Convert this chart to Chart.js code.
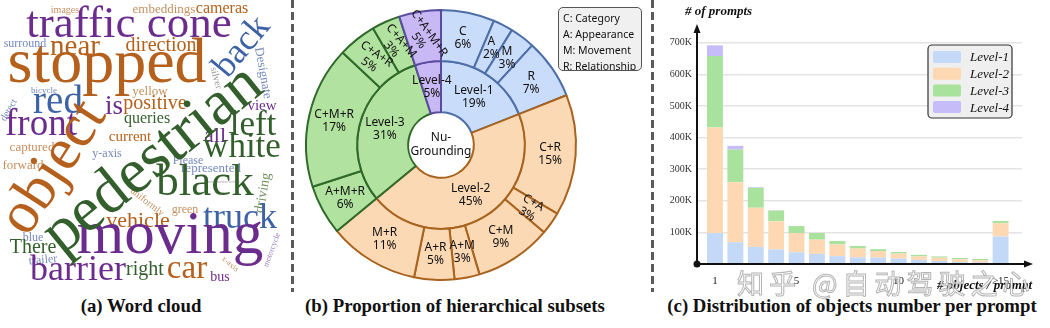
<!DOCTYPE html>
<html lang="en">
<head>
<meta charset="UTF-8">
<title>Nu-Grounding statistics</title>
<script src="https://cdn.jsdelivr.net/npm/chart.js@4.4.1/dist/chart.umd.min.js"></script>
<style>
    body {
        margin: 0;
        background-color: #ffffff;
    }

    .page {
        position: relative;
        width: 1050px;
        height: 328px;
        overflow: hidden;
    }

    canvas {
        position: absolute;
        top: 0;
    }

    #cloud { left: 0; }
    #rings { left: 296px; }
    #bars { left: 653px; }

    .sep {
        position: absolute;
        top: 0;
        width: 3px;
        height: 292px;
        background: repeating-linear-gradient(to bottom, #5a5a5a 0 8px, transparent 8px 12px);
    }

    .caption {
        position: absolute;
        top: 295px;
        font: bold 18.8px 'Liberation Serif', serif;
        color: #111;
        white-space: nowrap;
        transform: translateX(-50%);
    }

    .keybox {
        position: absolute;
        left: 558px;
        top: 7px;
        width: 78px;
        height: 60px;
        padding: 2px 0 0 4px;
        background: #f0f0f0;
        border: 1px solid #555;
        border-radius: 5px;
        font: 10.5px 'Noto Sans', sans-serif;
        line-height: 16px;
        color: #111;
        white-space: nowrap;
        overflow: hidden;
    }

    .mark {
        position: absolute;
        left: 737px;
        top: 269px;
        font: 27px 'Noto Sans CJK SC', sans-serif;
        line-height: 28px;
        letter-spacing: 5px;
        color: rgba(255, 255, 255, 0.75);
        -webkit-text-stroke: 1px rgba(140, 140, 140, 0.65);
        white-space: nowrap;
    }
</style>
</head>
<body>
<div class="page">
    <canvas id="cloud" width="290" height="290"></canvas>
    <canvas id="rings" width="290" height="290"></canvas>
    <canvas id="bars" width="397" height="295"></canvas>

    <div class="sep" style="left:291px"></div>
    <div class="sep" style="left:651px"></div>

    <div class="keybox">C: Category<br>A: Appearance<br>M: Movement<br>R: Relationship</div>

    <div class="caption" style="left:141px">(a) Word cloud</div>
    <div class="caption" style="left:455px">(b) Proportion of hierarchical subsets</div>
    <div class="caption" style="left:852px">(c) Distribution of objects number per prompt</div>

    <div class="mark">知乎 @自动驾驶之心</div>
</div>

<script>
    // ---- (a) word cloud ----
    const words = ['traffic cone', 'images', 'embeddings', 'cameras', 'surround', 'near', 'direction', 'back', 'stopped', 'Designate',
        'silver', 'bicycle', 'yellow', 'red', 'is', 'positive', 'view', 'detect', 'queries', 'front',
        'left', 'all', 'current', 'white', 'captured', 'y-axis', 'forward', 'Please', 'represented', 'construction vehicle',
        'black', 'driving', 'uniformly', 'green', 'vehicle', 'truck', 'moving', 'motorcycle', 'blue', 'There',
        'trailer', 'barrier', 'right', 'car', 'bus', 'x-axis', 'object', 'pedestrian'];
    const wordWeight = [45, 10, 13, 16, 12, 29, 20, 36, 64, 13,
        10, 9, 13, 39, 27, 20, 15, 10, 16, 37,
        35, 22, 15, 35, 13, 12, 13, 12, 13, 4,
        45, 14, 10, 12, 22, 36, 61, 8, 12, 20,
        12, 36, 20, 33, 14, 8, 60, 64];

    // layout of the cloud (0..290 box)
    const wordX = [129, 65, 164, 222, 25, 75, 161, 242, 107, 263,
        216, 44, 150, 58, 114, 155, 262, 9, 147, 41,
        253, 215, 130, 242, 32, 107, 23, 188, 211, 224,
        205, 263, 147, 185, 138, 240, 170, 272, 33, 33,
        43, 78, 145, 187, 220, 230, 54, 153];
    const wordY = [25, 10, 10, 9, 44, 47, 46, 47, 65, 73,
        78, 91, 92, 103, 107, 104, 106, 110, 119, 125,
        126, 136, 137, 148, 148, 154, 166, 161, 169, 182,
        183, 193, 202, 210, 221, 219, 237, 250, 238, 248,
        260, 271, 270, 269, 277, 264, 168, 160];
    const wordAngle = [0, 0, 0, 0, 0, 0, 0, -50, 0, 80,
        75, 0, 0, 0, 0, 0, 0, -60, 0, 0,
        0, 0, 0, 0, 0, 0, 0, 0, 0, 0,
        0, -80, 38, 0, 0, 0, 0, -70, 0, 0,
        -5, 0, 0, 0, 0, 40, -57, -39];
    const wordTone = ['purple', 'lightOrange', 'lightOrange', 'orange', 'lightBlue', 'orange', 'orange', 'blue', 'orange', 'lightBlue',
        'gray', 'lightBlue', 'lightOrange', 'blue', 'purple', 'orange', 'purple', 'lightBlue', 'green', 'purple',
        'green', 'purple', 'orange', 'green', 'lightOrange', 'lightBlue', 'lightOrange', 'lightBlue', 'lightBlue', 'gray',
        'green', 'lightGreen', 'lightOrange', 'lightOrange', 'orange', 'blue', 'purple', 'lightPurple', 'lightBlue', 'green',
        'lightBlue', 'purple', 'green', 'orange', 'purple', 'lightOrange', 'orange', 'green'];
    const tones = {
        orange: '#b5601c', lightOrange: '#c49060',
        purple: '#6b2c8e', lightPurple: '#9c80bb',
        green: '#335f2c', lightGreen: '#6f8f5c',
        blue: '#3d63a6', lightBlue: '#7489bd',
        gray: '#9a9a9a'
    };

    // ---- (b) hierarchical subsets (percent) ----
    const levelNames = ['Level-1', 'Level-2', 'Level-3', 'Level-4'];
    const levelShare = [19, 45, 31, 5];
    const subsetNames = ['C', 'A', 'M', 'R', 'C+R', 'C+A', 'C+M', 'A+M', 'A+R', 'M+R', 'A+M+R', 'C+M+R', 'C+A+R', 'C+A+M', 'C+A+M+R'];
    const subsetShare = [6.4, 2.4, 3.0, 7.2, 14.5, 2.7, 9.2, 3.0, 4.8, 10.8, 6.0, 17.0, 4.6, 3.4, 5.0];
    const subsetLevel = [0, 0, 0, 0, 1, 1, 1, 1, 1, 1, 2, 2, 2, 2, 3];
    const subsetTilt = [0, 0, 0, 0, 0, 30, 0, 0, 0, 0, 0, 0, 35, 50, 55];

    // ---- (c) objects per prompt (thousands of prompts) ----
    const objectCounts = ['1', '2', '3', '4', '5', '6', '7', '8', '9', '10', '11', '12', '13', '14', '≥15'];
    const level1 = [98, 69, 54, 46, 37, 32, 25, 21, 20, 17, 13, 9.5, 6, 5, 87];
    const level2 = [334, 190, 124, 89, 61, 45, 37, 28, 21, 16, 11, 10.5, 9, 7, 42];
    const level3 = [226, 103, 63, 34, 22, 21, 11, 8, 6, 5, 5, 4, 4, 4, 7];
    const level4 = [34, 12, 2, 1, 0, 0, 0, 0, 0, 0, 0, 0, 0, 0, 0];
    const xTickValues = [1, 5, 10, 15];
    const xTickLabels = ['1', '5', '10', '≥15'];
    const yTickValues = [100000, 200000, 300000, 400000, 500000, 600000, 700000];
    const yTickLabels = ['100K', '200K', '300K', '400K', '500K', '600K', '700K'];

    const ringFill = ['#c9dcfa', '#fcd9b5', '#b1e29f', '#c8b8f4'];
    const ringEdge = ['#4d6ea6', '#a8631e', '#2f6a2b', '#5b4b9e'];
    const barFill = ['#c4d8f7', '#fdd8b3', '#a9e29c', '#c6bcf7'];

    Chart.defaults.animation = false;
    Chart.defaults.events = [];
    Chart.defaults.plugins.legend.display = false;
    Chart.defaults.plugins.tooltip.enabled = false;

    const cloudText = {
        id: 'cloudText',
        afterDatasetsDraw(chart) {
            const ctx = chart.ctx;
            const pts = chart.getDatasetMeta(0).data;
            ctx.save();
            ctx.textAlign = 'center';
            ctx.textBaseline = 'middle';
            pts.forEach((pt, i) => {
                ctx.save();
                ctx.translate(pt.x, pt.y);
                ctx.rotate(wordAngle[i] * Math.PI / 180);
                ctx.font = wordWeight[i] + 'px "Liberation Serif"';
                ctx.fillStyle = tones[wordTone[i]];
                ctx.fillText(words[i], 0, 0);
                ctx.restore();
            });
            ctx.restore();
        }
    };

    new Chart(document.getElementById('cloud'), {
        type: 'scatter',
        data: {
            datasets: [{
                data: words.map((w, i) => ({ x: wordX[i], y: wordY[i] })),
                pointRadius: 0
            }]
        },
        options: {
            responsive: false,
            layout: { padding: 0 },
            scales: {
                x: { display: false, min: 0, max: 290 },
                y: { display: false, min: 0, max: 290, reverse: true }
            }
        },
        plugins: [cloudText]
    });

    const ringText = {
        id: 'ringText',
        afterDatasetsDraw(chart) {
            const ctx = chart.ctx;
            ctx.save();
            ctx.textAlign = 'center';
            ctx.textBaseline = 'middle';
            ctx.fillStyle = '#111';
            ctx.font = '12px "Noto Sans"';
            const put = (arc, lines, deg) => {
                const p = arc.tooltipPosition();
                ctx.save();
                ctx.translate(p.x, p.y);
                ctx.rotate(deg * Math.PI / 180);
                lines.forEach((t, j) => ctx.fillText(t, 0, (j - (lines.length - 1) / 2) * 13));
                ctx.restore();
            };
            chart.getDatasetMeta(0).data.forEach((arc, i) =>
                put(arc, [subsetNames[i], Math.round(subsetShare[i]) + '%'], subsetTilt[i]));
            chart.getDatasetMeta(1).data.forEach((arc, i) =>
                put(arc, [levelNames[i], levelShare[i] + '%'], 0));
            const c = chart.getDatasetMeta(1).data[0];
            ctx.fillText('Nu-', c.x, c.y - 7);
            ctx.fillText('Grounding', c.x, c.y + 7);
            ctx.restore();
        }
    };

    new Chart(document.getElementById('rings'), {
        type: 'doughnut',
        data: {
            labels: subsetNames,
            datasets: [{
                data: subsetShare,
                backgroundColor: subsetLevel.map(k => ringFill[k]),
                borderColor: subsetLevel.map(k => ringEdge[k]),
                borderWidth: 2
            }, {
                data: levelShare,
                backgroundColor: ringFill,
                borderColor: ringEdge,
                borderWidth: 2
            }]
        },
        options: {
            responsive: false,
            cutout: '24.3%',
            layout: { padding: 9 }
        },
        plugins: [ringText]
    });

    const barDecor = {
        id: 'barDecor',
        afterDraw(chart) {
            const ctx = chart.ctx;
            const ca = chart.chartArea;
            ctx.save();

            // axes with arrow heads
            ctx.strokeStyle = '#111';
            ctx.fillStyle = '#111';
            ctx.lineWidth = 2;
            ctx.beginPath();
            ctx.moveTo(ca.left, ca.bottom);
            ctx.lineTo(ca.left, ca.top + 4);
            ctx.moveTo(ca.left - 3, ca.bottom);
            ctx.lineTo(ca.right + 4, ca.bottom);
            ctx.stroke();
            ctx.beginPath();
            ctx.moveTo(ca.left, ca.top - 3);
            ctx.lineTo(ca.left - 3.5, ca.top + 6);
            ctx.lineTo(ca.left + 3.5, ca.top + 6);
            ctx.closePath();
            ctx.fill();
            ctx.beginPath();
            ctx.moveTo(ca.right + 11, ca.bottom);
            ctx.lineTo(ca.right + 2, ca.bottom - 3.5);
            ctx.lineTo(ca.right + 2, ca.bottom + 3.5);
            ctx.closePath();
            ctx.fill();
            ctx.beginPath();
            ctx.arc(ca.left, ca.bottom, 3.5, 0, Math.PI * 2);
            ctx.fill();

            // axis titles
            ctx.font = 'italic bold 13px "Liberation Serif"';
            ctx.textBaseline = 'middle';
            ctx.textAlign = 'left';
            ctx.fillText('# of prompts', ca.left - 12, 12);
            ctx.textAlign = 'right';
            ctx.fillText('# objects / prompt', ca.right + 10, 286);

            // legend box
            const bx = ca.right - 94, by = 45, bw = 84, bh = 73;
            ctx.beginPath();
            ctx.roundRect(bx, by, bw, bh, 4);
            ctx.fillStyle = '#efefef';
            ctx.fill();
            ctx.lineWidth = 1.2;
            ctx.strokeStyle = '#333';
            ctx.stroke();
            ctx.font = 'italic 13px "Liberation Serif"';
            ctx.textAlign = 'left';
            chart.data.datasets.forEach((ds, i) => {
                const ry = by + 12 + i * 16.7;
                ctx.fillStyle = ds.backgroundColor;
                ctx.beginPath();
                ctx.roundRect(bx + 5, ry - 6, 28, 12, 2);
                ctx.fill();
                ctx.fillStyle = '#111';
                ctx.fillText(ds.label, bx + 42, ry + 1);
            });
            ctx.restore();
        }
    };

    const levelSeries = [level1, level2, level3, level4];

    new Chart(document.getElementById('bars'), {
        type: 'bar',
        data: {
            datasets: levelNames.map((name, k) => ({
                label: name,
                data: levelSeries[k].map((v, i) => ({ x: i + 1, y: v * 1000 })),
                backgroundColor: barFill[k],
                borderWidth: 0,
                barPercentage: 0.78,
                categoryPercentage: 1
            }))
        },
        options: {
            responsive: false,
            layout: { padding: { top: 27, right: 28, left: 0, bottom: 0 } },
            scales: {
                x: {
                    type: 'linear',
                    stacked: true,
                    offset: false,
                    min: 0.12,
                    max: 16.05,
                    afterBuildTicks: a => { a.ticks = xTickValues.map(v => ({ value: v })); },
                    afterFit: a => { a.height = 31; },
                    ticks: {
                        callback: v => xTickLabels[xTickValues.indexOf(v)],
                        font: { family: 'Liberation Serif', size: 11 },
                        color: '#222',
                        padding: 3,
                        maxRotation: 0,
                        autoSkip: false
                    },
                    grid: { display: false },
                    border: { display: false }
                },
                y: {
                    stacked: true,
                    min: 0,
                    max: 750000,
                    afterBuildTicks: a => { a.ticks = yTickValues.map(v => ({ value: v })); },
                    afterFit: a => { a.width = 44; },
                    ticks: {
                        callback: v => yTickLabels[yTickValues.indexOf(v)],
                        font: { family: 'Liberation Serif', size: 10 },
                        color: '#333',
                        padding: 5
                    },
                    grid: { color: '#e4e4e4', lineWidth: 1.5, drawTicks: false },
                    border: { display: false }
                }
            }
        },
        plugins: [barDecor]
    });
</script>
</body>
</html>
